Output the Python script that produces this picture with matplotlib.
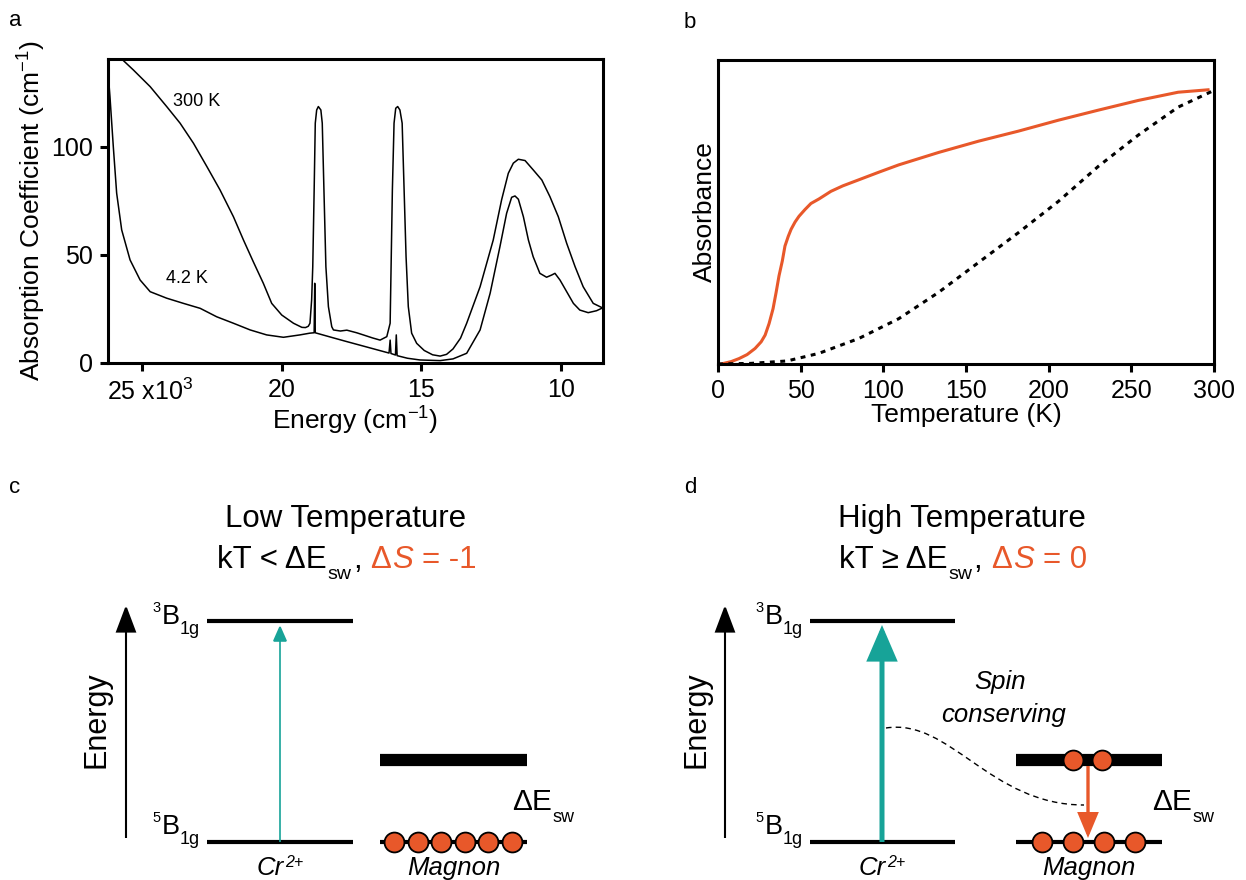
import numpy as np
import matplotlib
matplotlib.use("Agg")
import matplotlib.pyplot as plt
import matplotlib.transforms as mtransforms
from matplotlib.patches import FancyArrowPatch, PathPatch
from matplotlib.path import Path

plt.rcParams["font.family"] = ["Liberation Sans", "DejaVu Sans"]
plt.rcParams["mathtext.fontset"] = "custom"
plt.rcParams["mathtext.rm"] = "Liberation Sans"
plt.rcParams["mathtext.it"] = "Liberation Sans:italic"
plt.rcParams["mathtext.bf"] = "Liberation Sans:bold"

ORANGE = "#E8582A"
TEAL = "#17A398"

# === panel a: absorption spectra (energy in 10^3 cm^-1) ===
e_300 = [26.00, 25.73, 25.31, 24.71, 24.12, 23.64, 23.16, 22.68, 22.21, 21.73,
         21.37, 21.02, 20.66, 20.36, 20.00, 19.58, 19.28, 19.15, 19.05, 18.99,
         18.93, 18.89, 18.84, 18.80, 18.75, 18.69, 18.60, 18.55, 18.49, 18.42,
         18.33, 18.21, 18.15, 17.90, 17.67, 17.32, 17.08, 16.75, 16.48, 16.24,
         16.12, 16.09, 16.04, 15.98, 15.92, 15.85, 15.77, 15.69, 15.62, 15.55,
         15.47, 15.35, 15.17, 14.90, 14.60, 14.33, 14.10, 13.87, 13.60, 13.38,
         12.90, 12.43, 12.13, 11.89, 11.71, 11.53, 11.29, 11.00, 10.69, 10.40,
         10.10, 9.80, 9.50, 9.21, 8.85, 8.50]
a_300 = [144.0, 140.7, 135.6, 127.9, 118.7, 111.0, 101.7, 90.9, 80.1, 67.7,
         56.9, 46.9, 36.9, 27.6, 22.2, 18.4, 16.5, 16.4, 17.0, 18.4,
         29.2, 44.6, 80.1, 111.0, 117.1, 118.7, 117.1, 111.0, 80.1, 44.6,
         26.1, 16.8, 15.3, 14.8, 15.2, 14.0, 13.0, 11.6, 10.6, 12.2,
         18.4, 41.5, 80.1, 111.0, 117.9, 118.7, 117.1, 111.0, 80.1, 49.2,
         26.1, 13.8, 9.1, 5.8, 3.8, 3.2, 4.0, 6.5, 11.5, 18.4,
         35.3, 56.9, 75.5, 87.8, 92.5, 94.3, 93.7, 89.4, 84.7, 77.0,
         67.7, 55.4, 44.6, 35.3, 27.6, 25.4]

e_4k = [26.22, 26.15, 26.03, 25.91, 25.73, 25.43, 25.07, 24.71, 24.12, 23.52,
        22.92, 22.33, 21.73, 21.13, 20.54, 19.94, 19.35, 19.00, 18.84, 18.82,
        18.80, 18.75, 18.20, 17.67, 16.90, 16.16, 16.12, 16.09, 15.93, 15.90,
        15.87, 15.50, 15.05, 14.33, 13.87, 13.38, 12.90, 12.54, 12.19, 11.95,
        11.77, 11.65, 11.53, 11.35, 11.17, 11.00, 10.76, 10.52, 10.34, 10.22,
        10.04, 9.80, 9.56, 9.33, 9.03, 8.73, 8.50]
a_4k = [135.0, 123.3, 100.1, 78.6, 61.6, 47.7, 38.4, 33.0, 30.0, 27.6,
        25.3, 21.4, 18.4, 15.3, 13.0, 11.9, 13.0, 13.8, 14.0, 36.9,
        14.0, 13.8, 11.8, 9.9, 7.2, 4.6, 10.6, 4.4, 3.7, 13.0,
        3.4, 2.2, 1.4, 1.1, 1.9, 4.5, 15.3, 32.3, 53.8, 69.3,
        76.7, 77.3, 75.8, 67.7, 56.9, 49.2, 41.5, 39.7, 40.7, 41.5,
        38.4, 33.0, 27.6, 24.5, 23.3, 24.2, 25.6]

energy_ticks = [25, 20, 15, 10]
energy_ticklabels = ["25 x10$^3$", "20", "15", "10"]
coef_ticks = [0, 50, 100]

# === panel b: absorbance vs temperature (arb. units) ===
t_orange = [1.9, 8.0, 12.8, 17.6, 22.4, 26.1, 28.5, 30.9, 33.3, 35.2, 36.9, 38.9,
            40.5, 42.5, 44.2, 46.6, 49.0, 52.6, 56.2, 61.1, 68.3, 75.5, 85.2,
            97.3, 109.3, 133.5, 157.6, 181.7, 205.9, 230.0, 254.2, 278.3, 296.4]
a_orange = [0.0, 0.008, 0.018, 0.031, 0.051, 0.073, 0.095, 0.133, 0.182, 0.237,
            0.290, 0.339, 0.388, 0.420, 0.443, 0.467, 0.486, 0.508, 0.528, 0.543,
            0.568, 0.586, 0.606, 0.631, 0.655, 0.696, 0.733, 0.766, 0.802, 0.835,
            0.867, 0.894, 0.902]
t_dotted = [0, 20, 41.8, 61.0, 85.2, 109.3, 133.5, 157.6, 181.7, 205.9, 230.0,
            254.2, 278.3, 300.0]
a_dotted = [0.0, 0.002, 0.01, 0.035, 0.084, 0.149, 0.236, 0.334, 0.432, 0.535,
            0.65, 0.753, 0.845, 0.9]
temp_ticks = [0, 50, 100, 150, 200, 250, 300]

# === panels c/d: schematic level energies (relative) and magnon counts ===
level_energy = [0.0, 1.0]          # 5B1g, 3B1g
level_spin = ["5", "3"]
band_energy = 0.37                 # magnon band, ΔE_sw above ground
magnons_c = [6, 0]                 # ground, band
magnons_d = [4, 2]

# === figure ===
W, H = 1246, 880
fig = plt.figure(figsize=(W / 100, H / 100), dpi=100)


def frac(x0, y0, x1, y1):
    return [x0 / W, 1 - y1 / H, (x1 - x0) / W, (y1 - y0) / H]


def style_axes(ax):
    for s in ax.spines.values():
        s.set_linewidth(2.2)
    ax.tick_params(direction="out", length=6, width=2.2, labelsize=18, pad=5,
                   top=False, right=False)


# --- a ---
ax_a = fig.add_axes(frac(108, 59, 603, 363))
ax_a.plot(e_300, a_300, color="black", lw=1.1)
ax_a.plot(e_4k, a_4k, color="black", lw=1.1)
ax_a.set_xlim(26.22, 8.50)
ax_a.set_ylim(0, 140.7)
ax_a.set_xticks(energy_ticks)
ax_a.set_xticklabels(energy_ticklabels)
ax_a.set_yticks(coef_ticks)
style_axes(ax_a)
lab0 = ax_a.get_xticklabels()[0]
lab0.set_transform(lab0.get_transform() +
                   mtransforms.ScaledTranslation(8 / 100, 0, fig.dpi_scale_trans))
ax_a.set_xlabel("Energy (cm$^{-1}$)", fontsize=19, labelpad=0)
ax_a.set_ylabel("Absorption Coefficient (cm$^{-1}$)", fontsize=19, labelpad=2)
ax_a.text(23.89, 121, "300 K", fontsize=13, va="center", ha="left")
ax_a.text(24.14, 39.3, "4.2 K", fontsize=13, va="center", ha="left")

# --- b ---
ax_b = fig.add_axes(frac(718, 60, 1214, 364))
ax_b.plot(t_orange, a_orange, color=ORANGE, lw=2.2)
ax_b.plot(t_dotted, a_dotted, color="black", lw=2.2, linestyle=(0, (1.6, 1.8)))
ax_b.set_xlim(0, 300)
ax_b.set_ylim(0, 1)
ax_b.set_xticks(temp_ticks)
ax_b.set_yticks([])
style_axes(ax_b)
ax_b.set_xlabel("Temperature (K)", fontsize=19, labelpad=0)
ax_b.set_ylabel("Absorbance", fontsize=19, labelpad=1)

# panel letters
for ch, (px, py) in zip("abcd", [(9, 20), (684, 22), (9, 487), (684, 487)]):
    fig.text(px / W, 1 - py / H, ch, fontsize=16, ha="left", va="center")

# --- c / d schematic (pixel-space overlay) ---
ax_s = fig.add_axes([0, 0, 1, 1])
ax_s.set_xlim(0, W)
ax_s.set_ylim(H, 0)
ax_s.axis("off")
renderer = fig.canvas.get_renderer()

Y_GROUND, Y_TOP = 842, 621


def ypix(e):
    return Y_GROUND - e * (Y_GROUND - Y_TOP)


def rich(x, y, pieces, ha="left"):
    # pieces: (text, size, dy, color, style, gap_before)
    arts, pos, cur = [], [], 0.0
    for txt, fs, dy, col, sty, gap in pieces:
        cur += gap
        t = ax_s.text(0, y + dy, txt, fontsize=fs, color=col, style=sty,
                      ha="left", va="baseline")
        w = t.get_window_extent(renderer=renderer).width
        arts.append(t)
        pos.append(cur)
        cur += w
    shift = {"left": 0, "center": -cur / 2, "right": -cur}[ha]
    for t, p in zip(arts, pos):
        t.set_x(x + shift + p)


def arrow(x0, y0, x1, y1, color, lw, hw, hl):
    ax_s.add_patch(FancyArrowPatch((x0, y0), (x1, y1), color=color, lw=lw,
                                   arrowstyle=f"-|>,head_width={hw},head_length={hl}",
                                   mutation_scale=20, shrinkA=0, shrinkB=0,
                                   joinstyle="miter", capstyle="butt", zorder=4))


def diagram(cx, title, relation, dS, axis_x, lev, mag, counts, low_start, low_step,
            high_start, high_step, de_x, cr_x, teal):
    ax_s.text(cx, 519, title, fontsize=22.5, ha="center", va="center")
    rich(cx + 1, 568, [("kT " + relation + " ΔE", 22.5, 0, "black", "normal", 0),
                       ("sw", 14, 11, "black", "normal", 1),
                       (",", 22.5, 0, "black", "normal", 1),
                       ("Δ", 22.5, 0, ORANGE, "normal", 9),
                       ("S", 22.5, 0, ORANGE, "italic", 1),
                       ("= " + dS, 22.5, 0, ORANGE, "normal", 9)], ha="center")
    # energy axis
    arrow(axis_x, 838, axis_x, 605, "black", 1.5, 0.32, 0.85)
    ax_s.text(axis_x - 29, 720, "Energy", fontsize=22, rotation=90,
              ha="center", va="center")
    # Cr2+ levels
    for e, spin, base in zip(level_energy, level_spin, [834, 624]):
        y = ypix(e)
        ax_s.plot(lev, [y, y], color="black", lw=3.0, solid_capstyle="butt")
        rich(lev[0] - 7, base, [(spin, 10.5, -12, "black", "normal", 0),
                                ("B", 19.5, 0, "black", "normal", 0.5),
                                ("1g", 13, 10, "black", "normal", 0.5)], ha="right")
    rich(cr_x, 875, [("Cr", 18.5, 0, "black", "italic", 0),
                     ("2+", 11.5, -8, "black", "italic", 0.5)], ha="center")
    # transition arrow
    arrow(cr_x, ypix(level_energy[0]), cr_x, ypix(level_energy[1]) + 4, TEAL, *teal)
    # magnon levels
    yb = ypix(band_energy)
    ax_s.plot(mag, [yb, yb], color="black", lw=8.8, solid_capstyle="butt")
    yg = ypix(level_energy[0])
    ax_s.plot(mag, [yg, yg], color="black", lw=3.0, solid_capstyle="butt")
    xs = [low_start + i * low_step for i in range(counts[0])]
    ax_s.scatter(xs, [yg] * len(xs), s=205, color=ORANGE, edgecolor="black",
                 linewidth=1.3, zorder=5)
    if counts[1]:
        xs = [high_start + i * high_step for i in range(counts[1])]
        ax_s.scatter(xs, [yb] * len(xs), s=205, color=ORANGE, edgecolor="black",
                     linewidth=1.3, zorder=5)
    rich(de_x, 810, [("ΔE", 21.5, 0, "black", "normal", 0),
                     ("sw", 13, 12, "black", "normal", 1)])
    ax_s.text((mag[0] + mag[1]) / 2, 875, "Magnon", fontsize=18.5,
              style="italic", ha="center", va="baseline")


# c: low temperature
diagram(346, "Low Temperature", "<", "-1", 126, (207, 353), (380, 527), magnons_c,
        394, 23.6, 0, 0, 512, 280, (1.2, 0.22, 0.5))

# d: high temperature
diagram(962, "High Temperature", "≥", "0", 725, (810, 955), (1016, 1162), magnons_d,
        1042, 31, 1073, 29, 1152, 882, (3.6, 0.43, 1.0))
arrow(1088, 766, 1088, 838, ORANGE, 2.4, 0.3, 0.72)

# spin-conserving dashed path
verts = [(886, 728), (950, 718), (990, 805), (1084, 805)]
codes = [Path.MOVETO, Path.CURVE4, Path.CURVE4, Path.CURVE4]
ax_s.add_patch(PathPatch(Path(verts, codes), fill=False, lw=1.0, color="black",
                         linestyle=(0, (4, 3))))
ax_s.text(1000, 682, "Spin", fontsize=18.5, style="italic", ha="center", va="center")
ax_s.text(1004, 715, "conserving", fontsize=18.5, style="italic", ha="center",
          va="center")

fig.savefig("out.png", dpi=100)
